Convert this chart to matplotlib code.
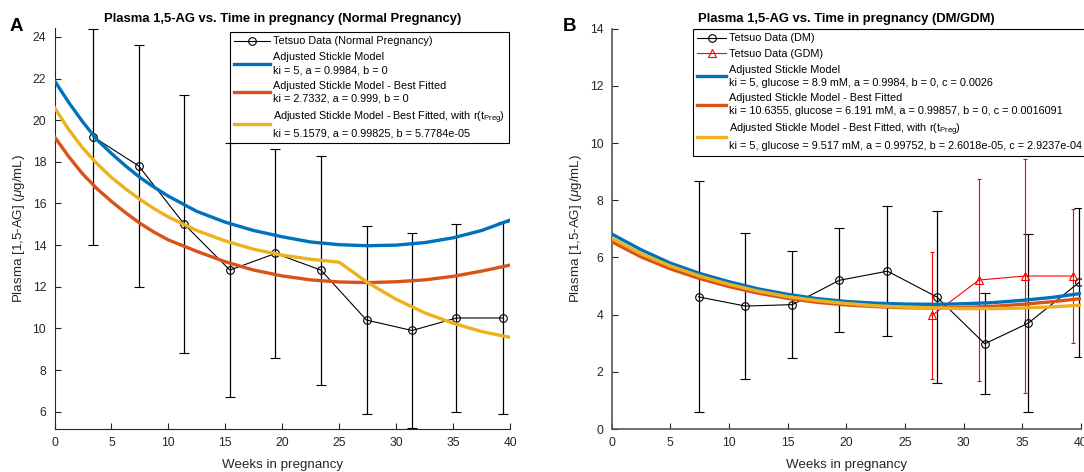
import matplotlib
matplotlib.use("Agg")
import matplotlib.pyplot as plt
from matplotlib.lines import Line2D

plt.rcParams['font.family'] = ['Liberation Sans', 'DejaVu Sans']
plt.rcParams['mathtext.fontset'] = 'custom'
plt.rcParams['mathtext.rm'] = 'Liberation Sans'
plt.rcParams['mathtext.it'] = 'Liberation Sans:italic'

# ---------------- data: panel A (normal pregnancy) ----------------
weeks_normal = [3.4, 7.4, 11.4, 15.4, 19.4, 23.4, 27.4, 31.4, 35.3, 39.4]
ag_normal = [19.2, 17.8, 15.0, 12.8, 13.6, 12.8, 10.4, 9.9, 10.5, 10.5]
err_normal = [5.2, 5.8, 6.2, 6.1, 5.0, 5.5, 4.5, 4.7, 4.5, 4.6]

model_weeks_a = [0, 1.25, 2.5, 3.75, 5, 6.25, 7.5, 8.75, 10, 12.5, 15, 17.5, 20, 22.5, 25,
                 27.5, 30, 32.5, 35, 37.5, 40]
stickle_a = [21.9, 20.85, 19.9, 19.05, 18.4, 17.8, 17.25, 16.78, 16.35, 15.62, 15.1, 14.7, 14.4,
             14.15, 14.02, 13.97, 14.0, 14.12, 14.35, 14.7, 15.2]
best_a = [19.2, 18.25, 17.4, 16.7, 16.1, 15.55, 15.05, 14.62, 14.25, 13.7, 13.2, 12.8, 12.52,
          12.33, 12.23, 12.2, 12.24, 12.33, 12.5, 12.75, 13.04]
rpreg_a = [20.6, 19.55, 18.65, 17.9, 17.25, 16.7, 16.2, 15.75, 15.35, 14.7, 14.2, 13.8, 13.52,
           13.32, 13.18, 12.2, 11.4, 10.75, 10.25, 9.85, 9.57]

# ---------------- data: panel B (DM / GDM) ----------------
weeks_dm = [7.4, 11.4, 15.4, 19.4, 23.5, 27.7, 31.8, 35.5, 39.85]
ag_dm = [4.62, 4.3, 4.35, 5.2, 5.52, 4.62, 2.98, 3.7, 5.13]
err_dm = [4.04, 2.54, 1.88, 1.82, 2.28, 3.0, 1.76, 3.12, 2.6]

weeks_gdm = [27.3, 31.3, 35.2, 39.35]
ag_gdm = [3.97, 5.21, 5.35, 5.35]
err_gdm = [2.21, 3.52, 4.1, 2.33]

model_weeks_b = [0, 2.5, 5, 7.5, 10, 12.5, 15, 17.5, 20, 22.5, 25, 27.5, 30, 32.5, 35, 37.5, 40]
stickle_b = [6.82, 6.27, 5.8, 5.44, 5.15, 4.9, 4.71, 4.56, 4.46, 4.4, 4.37, 4.36, 4.38, 4.42, 4.5, 4.6, 4.74]
best_b = [6.55, 6.02, 5.6, 5.26, 4.98, 4.75, 4.57, 4.43, 4.34, 4.28, 4.24, 4.23, 4.25, 4.29, 4.36, 4.45, 4.56]
rpreg_b = [6.67, 6.13, 5.7, 5.35, 5.06, 4.82, 4.63, 4.49, 4.39, 4.31, 4.26, 4.23, 4.21, 4.21, 4.23, 4.27, 4.33]

x_ticks = [0, 5, 10, 15, 20, 25, 30, 35, 40]
y_ticks_a = [6, 8, 10, 12, 14, 16, 18, 20, 22, 24]
y_ticks_b = [0, 2, 4, 6, 8, 10, 12, 14]

title_a = 'Plasma 1,5-AG vs. Time in pregnancy (Normal Pregnancy)'
title_b = 'Plasma 1,5-AG vs. Time in pregnancy (DM/GDM)'
xlabel = 'Weeks in pregnancy'
ylabel = r'Plasma [1,5-AG] ($\mu$g/mL)'

labels_a = ['Tetsuo Data (Normal Pregnancy)',
            'Adjusted Stickle Model\nki = 5, a = 0.9984, b = 0',
            'Adjusted Stickle Model - Best Fitted\nki = 2.7332, a = 0.999, b = 0',
            'Adjusted Stickle Model - Best Fitted, with r(t$_{\\rm Preg}$)\nki = 5.1579, a = 0.99825, b = 5.7784e-05']
labels_b = ['Tetsuo Data (DM)', 'Tetsuo Data (GDM)',
            'Adjusted Stickle Model\nki = 5, glucose = 8.9 mM, a = 0.9984, b = 0, c = 0.0026',
            'Adjusted Stickle Model - Best Fitted\nki = 10.6355, glucose = 6.191 mM, a = 0.99857, b = 0, c = 0.0016091',
            'Adjusted Stickle Model - Best Fitted, with r(t$_{\\rm Preg}$)\nki = 5, glucose = 9.517 mM, a = 0.99752, b = 2.6018e-05, c = 2.9237e-04']

BLUE = '#0072BD'
ORANGE = '#D95319'
YELLOW = '#EDB120'
AXC = '#262626'

W, H = 1084, 472
fig = plt.figure(figsize=(W / 100, H / 100), dpi=100)

def fx(px):
    return px / W

def fy(py):
    return 1 - py / H

axA = fig.add_axes([fx(54.5), fy(429), fx(510) - fx(54.5), fy(27.5) - fy(429)])
axB = fig.add_axes([fx(611.7), fy(429), fx(1081) - fx(611.7), fy(28.7) - fy(429)])

TICK_FS = 8.7
LAB_FS = 9.6
TITLE_FS = 9.4
LEG_FS = 7.8
CURVE_LW = 2.4

def style(ax, yticks, ylim, spine_col=AXC, spine_lw=0.8):
    ax.set_xlim(0, 40)
    ax.set_ylim(*ylim)
    ax.set_xticks(x_ticks)
    ax.set_yticks(yticks)
    for s in ['top', 'right']:
        ax.spines[s].set_visible(False)
    for s in ['left', 'bottom']:
        ax.spines[s].set_color(spine_col)
        ax.spines[s].set_linewidth(spine_lw)
    ax.tick_params(direction='in', length=4, width=0.8, colors=AXC,
                   labelsize=TICK_FS, pad=6)
    ax.set_xlabel(xlabel, fontsize=LAB_FS, color=AXC)
    ax.set_ylabel(ylabel, fontsize=LAB_FS, color=AXC)
    ax.xaxis.label.set_va('center')
    ax.yaxis.label.set_va('center')

def make_legend(ax, handles, labels, loc, anchor, hlen):
    leg = ax.legend(handles, labels, loc=loc, bbox_to_anchor=anchor,
                    bbox_transform=fig.transFigure, fontsize=LEG_FS, frameon=True,
                    fancybox=False, edgecolor='k', framealpha=1, borderaxespad=0,
                    handlelength=hlen, handletextpad=0.3, labelspacing=0.52,
                    borderpad=0.38)
    leg.get_frame().set_linewidth(0.8)
    for t in leg.get_texts():
        t.set_linespacing(1.38)
    return leg

# ---------------- panel A ----------------
axA.errorbar(weeks_normal, ag_normal, yerr=err_normal, color='k', lw=0.8,
             elinewidth=0.9, capsize=3.5, capthick=0.9, marker='o', ms=5.5,
             mfc='none', mec='k', mew=0.8, zorder=2)
axA.plot(model_weeks_a, stickle_a, color=BLUE, lw=CURVE_LW, zorder=3)
axA.plot(model_weeks_a, best_a, color=ORANGE, lw=CURVE_LW, zorder=3)
axA.plot(model_weeks_a, rpreg_a, color=YELLOW, lw=CURVE_LW, zorder=3)
style(axA, y_ticks_a, (5.17, 24.45))
axA.xaxis.set_label_coords(0.5, (429 - 465) / 401.5)
axA.yaxis.set_label_coords((19 - 54.5) / 455.5, 0.5)
axA.set_title(title_a, fontsize=TITLE_FS, fontweight='bold', y=(429 - 19) / 401.5,
              va='center', pad=0)

handles_a = [Line2D([], [], color='k', lw=0.8, marker='o', ms=5.5, mfc='none', mew=0.8),
             Line2D([], [], color=BLUE, lw=CURVE_LW),
             Line2D([], [], color=ORANGE, lw=CURVE_LW),
             Line2D([], [], color=YELLOW, lw=CURVE_LW)]
make_legend(axA, handles_a, labels_a, 'upper right', (fx(509), fy(32.3)), 3.3)

# ---------------- panel B ----------------
axB.errorbar(weeks_dm, ag_dm, yerr=err_dm, color='k', lw=0.8,
             elinewidth=0.9, capsize=3.5, capthick=0.9, marker='o', ms=5.5,
             mfc='none', mec='k', mew=0.8, zorder=2)
axB.errorbar(weeks_gdm, ag_gdm, yerr=err_gdm, color='red', lw=0.8,
             elinewidth=0.8, capsize=1.5, capthick=0.8, marker='^', ms=6,
             mfc='none', mec='red', mew=0.8, zorder=2)
axB.plot(model_weeks_b, stickle_b, color=BLUE, lw=CURVE_LW, zorder=3)
axB.plot(model_weeks_b, best_b, color=ORANGE, lw=CURVE_LW, zorder=3)
axB.plot(model_weeks_b, rpreg_b, color=YELLOW, lw=CURVE_LW, zorder=3)
style(axB, y_ticks_b, (0, 14), spine_col='#555555', spine_lw=1.2)
axB.xaxis.set_label_coords(0.5, (429 - 465) / 400.3)
axB.yaxis.set_label_coords((576 - 611.7) / 469.3, 0.5)
axB.set_title(title_b, fontsize=TITLE_FS, fontweight='bold', y=(429 - 19) / 400.3,
              va='center', pad=0)

handles_b = [Line2D([], [], color='k', lw=0.8, marker='o', ms=5.5, mfc='none', mew=0.8),
             Line2D([], [], color='red', lw=0.8, marker='^', ms=6, mfc='none', mew=0.8),
             Line2D([], [], color=BLUE, lw=CURVE_LW),
             Line2D([], [], color=ORANGE, lw=CURVE_LW),
             Line2D([], [], color=YELLOW, lw=CURVE_LW)]
make_legend(axB, handles_b, labels_b, 'upper left', (fx(693.3), fy(29.3)), 2.6)

# panel letters
fig.text(fx(16.5), fy(26.5), 'A', fontsize=13.5, fontweight='bold', ha='center', va='center')
fig.text(fx(569.5), fy(26.5), 'B', fontsize=13.5, fontweight='bold', ha='center', va='center')

fig.savefig('out.png', dpi=100)
